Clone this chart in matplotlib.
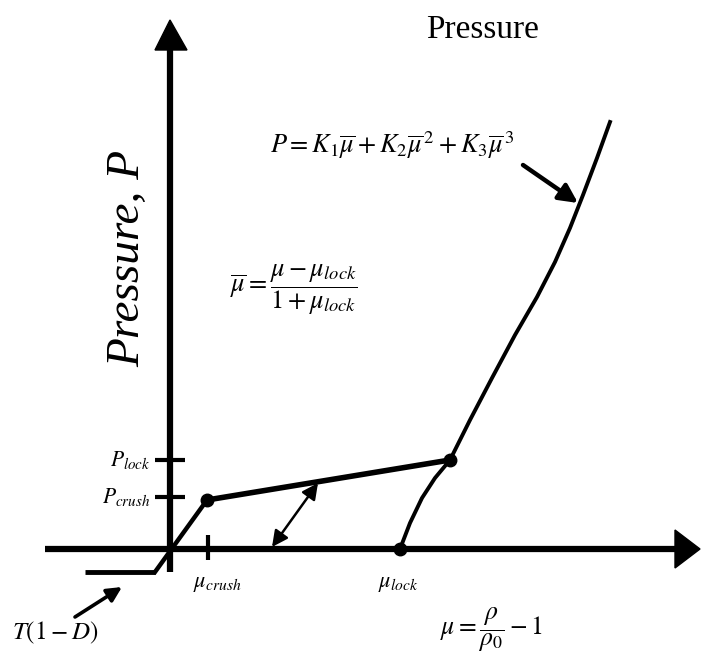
import matplotlib
matplotlib.use("Agg")
import matplotlib.pyplot as plt
from matplotlib.patches import FancyArrowPatch

plt.rcParams['mathtext.fontset'] = 'stix'
plt.rcParams['font.family'] = ['Liberation Serif', 'DejaVu Serif']

# ---- schematic data (mu, P) in arbitrary units, origin at axes crossing ----
tension_mu = [-85, -15]
tension_P = [-23, -23]
elastic_mu = [-15, 37]
elastic_P = [-23, 49]
crush_mu, crush_P = 37, 49
lock_mu, lock_P = 280, 89
plateau_mu = [crush_mu, lock_mu]
plateau_P = [crush_P, lock_P]
unload_mu = [230, 240, 252, 265, 280]
unload_P = [0, 26, 51, 71, 89]
solid_mu = [280, 300, 322, 345, 367, 385, 400, 413, 427, 440]
solid_P = [89, 129, 171, 214, 252, 287, 321, 354, 391, 427]
mu_lock_pt = (230, 0)
P_ticks = [89, 52]
P_tick_labels = [r'$P_{lock}$', r'$P_{crush}$']
mu_ticks = [38]
mu_tick_labels = [r'$\mu_{crush}$']

fig = plt.figure(figsize=(7.03, 6.64), dpi=100)
ax = fig.add_axes([0, 0, 1, 1])
ax.set_xlim(-170, 533)
ax.set_ylim(-115, 549)
ax.axis('off')

k = 'black'
# axes
ax.plot([-125, 505], [0, 0], color=k, lw=4.5, solid_capstyle='butt')
ax.plot([0, 0], [-23, 499], color=k, lw=4.5, solid_capstyle='butt')
ax.fill([0, -15, 17], [529, 499, 499], color=k)
ax.fill([530, 505, 505], [0, 19, -19], color=k)

# ticks
for p, lab in zip(P_ticks, P_tick_labels):
    ax.plot([-15, 15], [p, p], color=k, lw=3, solid_capstyle='butt')
    ax.text(-20, p, lab, ha='right', va='center', fontsize=15.5)
for m, lab in zip(mu_ticks, mu_tick_labels):
    ax.plot([m, m], [-11, 14], color=k, lw=3, solid_capstyle='butt')
    ax.text(m + 9, -35, lab, ha='center', va='center', fontsize=16)
ax.text(228, -35, r'$\mu_{lock}$', ha='center', va='center', fontsize=16)

# curves
ax.plot(tension_mu, tension_P, color=k, lw=3.5, solid_capstyle='butt')
ax.plot(elastic_mu, elastic_P, color=k, lw=3.2)
ax.plot(plateau_mu, plateau_P, color=k, lw=4)
ax.plot(unload_mu, unload_P, color=k, lw=2.8)
ax.plot(solid_mu, solid_P, color=k, lw=2.8)
ax.plot([crush_mu, lock_mu, mu_lock_pt[0]], [crush_P, lock_P, mu_lock_pt[1]],
        'o', color=k, ms=9)

# arrows
def arrow(p0, p1, style, ms, lw):
    ax.add_patch(FancyArrowPatch(p0, p1, arrowstyle=style, mutation_scale=ms,
                                 color=k, lw=lw, shrinkA=0, shrinkB=0))

arrow((102, 2), (148, 66), '<|-|>', 24, 1.8)
arrow((-95, -68), (-48, -38), '-|>', 22, 2.6)
arrow((353, 384), (408, 346), '-|>', 28, 3.2)

# texts
ax.text(313, 519, 'Pressure', ha='center', va='center', fontsize=24)
ax.text(-42, 291, 'Pressure, P', rotation=90, ha='center', va='center',
        fontsize=34, style='italic')
ax.text(100, 404, r'$P = K_1\overline{\mu} + K_2\overline{\mu}^{\,2} + K_3\overline{\mu}^{\,3}$',
        ha='left', va='center', fontsize=19)
ax.text(60, 259, r'$\overline{\mu} = \dfrac{\mu - \mu_{lock}}{1 + \mu_{lock}}$',
        ha='left', va='center', fontsize=19)
ax.text(-158, -84, r'$T(1 - D)$', ha='left', va='center', fontsize=18)
ax.text(270, -81, r'$\mu = \dfrac{\rho}{\rho_0} - 1$', ha='left', va='center', fontsize=18.5)

fig.savefig('out.png', dpi=100)
